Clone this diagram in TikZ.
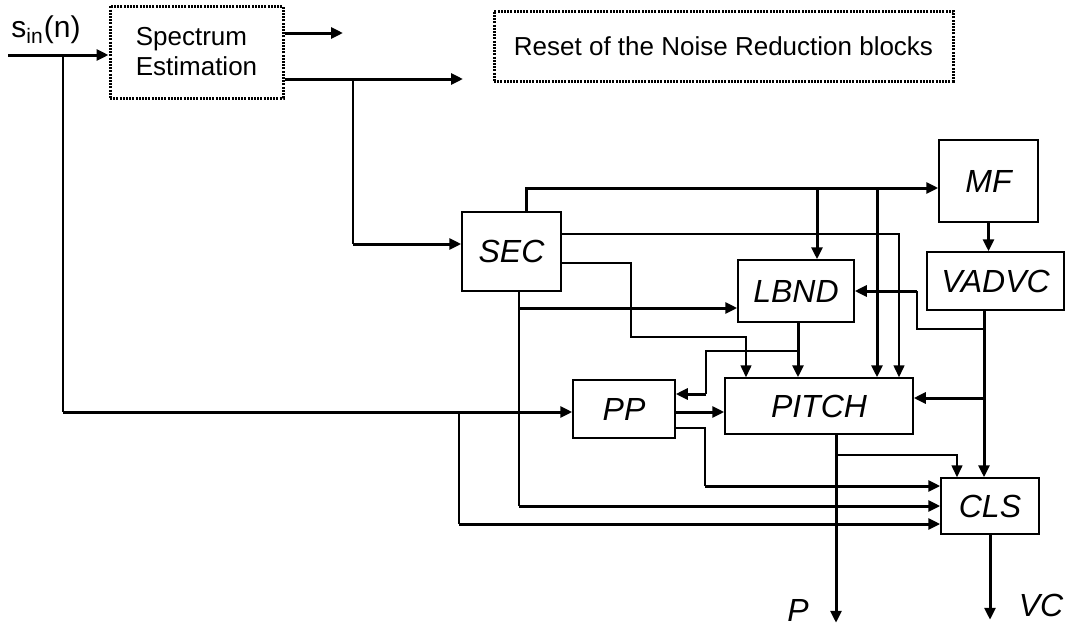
\documentclass[tikz,border=0pt]{standalone}
\usepackage{fontspec}
\setmainfont{Liberation Sans}
\usetikzlibrary{arrows.meta, calc}

\begin{document}
\begin{tikzpicture}[
  x=0.5pt, y=-0.5pt,
  blk/.style={draw, rectangle, line width=0.75pt, inner sep=0pt,
              font=\fontsize{16}{19}\selectfont\itshape},
  dotbox/.style={draw, rectangle, line width=1.5pt, dash pattern=on 1pt off 0.6pt,
                 inner sep=0pt, font=\fontsize{13}{15}\selectfont},
  lbl/.style={inner sep=0pt},
  thk/.style={line width=1.5pt},
  thn/.style={line width=0.75pt},
  >={Triangle[length=6pt, width=5.5pt]}
]
\useasboundingbox (0,0) rectangle (1066,627);

\node[dotbox, minimum width=86.5pt, minimum height=46pt, align=left] (spec) at (196.5,52)
  {Spectrum\\Estimation};
\node[dotbox, minimum width=229.5pt, minimum height=35pt] (reset) at (723.5,46)
  {Reset of the Noise Reduction blocks};

\node[blk, minimum width=49.5pt, minimum height=39.5pt] (sec) at (511.5,251.5) {SEC};
\node[blk, minimum width=49.5pt, minimum height=41pt] (mf) at (988.5,181) {MF};
\node[blk, minimum width=68.5pt, minimum height=29pt] (vadvc) at (995.5,281) {VADVC};
\node[blk, minimum width=58pt, minimum height=31pt] (lbnd) at (796,291) {LBND};
\node[blk, minimum width=94pt, minimum height=28pt] (pitch) at (819,406) {PITCH};
\node[blk, minimum width=51pt, minimum height=29pt] (pp) at (624,409) {PP};
\node[blk, minimum width=49pt, minimum height=28pt] (cls) at (990,506) {CLS};

\node[lbl, font=\fontsize{15}{18}\selectfont] (sin) at (46,30) {s\textsubscript{in}(n)};
\node[lbl, font=\fontsize{16}{19}\selectfont\itshape] (plbl) at (798,610) {P};
\node[lbl, font=\fontsize{16}{19}\selectfont\itshape] (vclbl) at (1041,605) {VC};

\coordinate (in) at (8,55);
\coordinate (tapA) at (63,55);
\coordinate (tapB) at (459,412);
\coordinate (tapC) at (353,79);
\coordinate (resetA) at (343,33);
\coordinate (resetB) at (463,79);

\coordinate (specA) at ([yshift=9.5pt]spec.east);
\coordinate (specB) at ([yshift=-13.5pt]spec.east);
\coordinate (secW) at ([yshift=3.75pt]sec.west);
\coordinate (secN) at ([xshift=7.25pt]sec.north);
\coordinate (secS) at ([xshift=3.75pt]sec.south);
\coordinate (secE1) at ([yshift=8.75pt]sec.east);
\coordinate (secE2) at ([yshift=-5.75pt]sec.east);
\coordinate (mfIn) at ([yshift=-3.5pt]mf.west);
\coordinate (lbN) at ([xshift=10.5pt]lbnd.north);
\coordinate (lbW) at ([yshift=-8.5pt]lbnd.west);
\coordinate (lbS) at ([xshift=1pt]lbnd.south);
\coordinate (ptN1) at ([xshift=-36.5pt]pitch.north);
\coordinate (ptN3) at ([xshift=29pt]pitch.north);
\coordinate (ptN4) at ([xshift=40pt]pitch.north);
\coordinate (ptE) at ([yshift=4pt]pitch.east);
\coordinate (ptS) at ([xshift=8.5pt]pitch.south);
\coordinate (ppW) at ([yshift=-1.5pt]pp.west);
\coordinate (ppE1) at ([yshift=7.5pt]pp.east);
\coordinate (ppE2) at ([yshift=-9.5pt]pp.east);
\coordinate (vdS) at ([xshift=-5.75pt]vadvc.south);
\coordinate (clN1) at ([xshift=-16.5pt]cls.north);
\coordinate (clN2) at ([xshift=-3pt]cls.north);
\coordinate (clW1) at ([yshift=10pt]cls.west);
\coordinate (clW3) at ([yshift=-9pt]cls.west);

\coordinate (lbSplit) at ($(lbS)+(0,28)$);
\coordinate (ppBendA) at (706,394);
\coordinate (ppBendB) at (705,486);
\coordinate (vdSplit) at ($(vdS)+(0,18)$);
\coordinate (lbBend) at ($(lbnd.east)+(62,0)$);
\coordinate (ptSplit) at ($(ptS)+(0,20)$);
\coordinate (pout) at ($(ptS)+(0,188)$);
\coordinate (vcout) at ($(cls.south)+(0,85)$);

\draw[thk,->] (in) -- (in -| spec.west);
\draw[thn] (tapA) -- (tapA |- ppW);
\draw[thk,->] (tapA |- ppW) -- (ppW);
\draw[thn] (tapB) -- (tapB |- clW3);
\draw[thk,->] (tapB |- clW3) -- (clW3);

\draw[thk,->] (specA) -- (resetA);
\draw[thk,->] (specB) -- (resetB);
\draw[thn] (tapC) -- (tapC |- secW);
\draw[thk,->] (tapC |- secW) -- (secW);

\draw[thk,->] (secN) |- (mfIn);
\draw[thk,->] (lbN |- mfIn) -- (lbN);
\draw[thk,->] (ptN3 |- mfIn) -- (ptN3);
\draw[thn,->] (secE1) -| (ptN4);
\draw[thn,->] (secE2) -| (631,337) -| (ptN1);
\draw[thn] (secS) -- (secS |- cls.west);
\draw[thk,->] (secS |- cls.west) -- (cls.west);
\draw[thk,->] (secS |- lbW) -- (lbW);

\draw[thk,->] (lbS) -- (lbS |- pitch.north);
\draw[thn] (lbSplit) -| (ppBendA);
\draw[thk,->] (ppBendA) -- (ppE1);

\draw[thk,->] (ppW -| pp.east) -- (ppW -| pitch.west);
\draw[thn] (ppE2) -| (ppBendB);
\draw[thk,->] (ppBendB) -- (clW1);

\draw[thk,->] (mf.south) -- (mf.south |- vadvc.north);
\draw[thk,->] (vdS) -- (clN2);
\draw[thk,->] (vdS |- ptE) -- (ptE);
\draw[thn] (vdSplit) -| (lbBend);
\draw[thk,->] (lbBend) -- (lbnd.east);

\draw[thk,->] (ptS) -- (pout);
\draw[thn,->] (ptSplit) -| (clN1);
\draw[thk,->] (cls.south) -- (vcout);
\end{tikzpicture}
\end{document}
